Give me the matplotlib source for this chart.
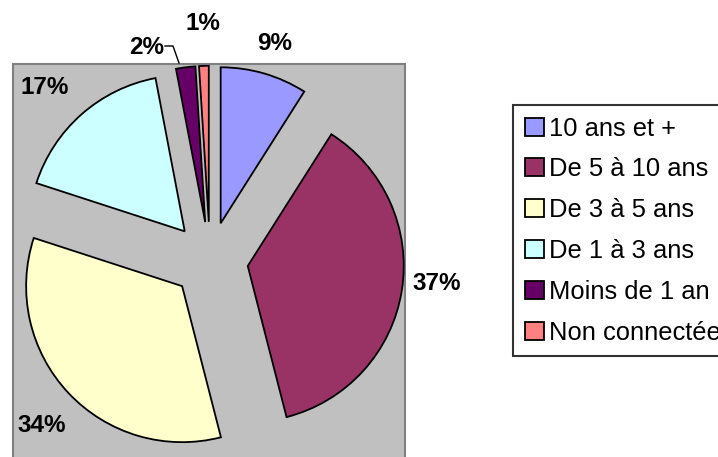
import matplotlib
matplotlib.use("Agg")
import matplotlib.pyplot as plt
from matplotlib.patches import Rectangle

plt.rcParams["font.family"] = ["Liberation Sans", "DejaVu Sans"]

categories = ["10 ans et +", "De 5 à 10 ans", "De 3 à 5 ans",
              "De 1 à 3 ans", "Moins de 1 an", "Non connectée"]
shares = [9, 37, 34, 17, 2, 1]
labels = ["9%", "37%", "34%", "17%", "2%", "1%"]
colors = ["#9999FF", "#993366", "#FFFFCC", "#CCFFFF", "#660066", "#FF8080"]

W, H = 718, 457
R = 156.0            # pie radius, px
CX, CY = 210, 260    # pie centre, px from top-left

fig = plt.figure(figsize=(W / 100, H / 100), dpi=100)
fig.patch.set_facecolor("white")

# grey plot area
fig.add_artist(Rectangle((13 / W, -0.01), (405 - 13) / W, (H - 64) / H + 0.01,
                         transform=fig.transFigure, facecolor="#C0C0C0",
                         edgecolor="#808080", linewidth=1.5, zorder=0))

ax = fig.add_axes([0, 0, 1, 1])
ax.patch.set_alpha(0)
wedges, _ = ax.pie(shares, colors=colors, startangle=90, counterclock=False,
                   explode=[0.245] * len(shares),
                   wedgeprops=dict(edgecolor="black", linewidth=1.3))
ax.set_aspect("auto")
ax.set_xlim(-CX / R, (W - CX) / R)
ax.set_ylim(-(H - CY) / R, CY / R)
ax.axis("off")

# percentage labels (pixel positions of text centres)
label_pos = [(275, 43), (437, 284), (42, 425), (45, 88), (147, 47), (203, 23)]
for txt, (x, y) in zip(labels, label_pos):
    fig.text(x / W, 1 - y / H, txt, ha="center", va="center",
             fontsize=17.5, fontweight="bold")

# leader line for the 2% label
fig.add_artist(plt.Line2D([165 / W, 173 / W, 179 / W],
                          [1 - 46 / H, 1 - 46 / H, 1 - 63 / H],
                          transform=fig.transFigure, color="black", lw=1))

leg = fig.legend(wedges, categories, loc="upper left",
                 bbox_to_anchor=(513 / W, 1 - 105 / H), fontsize=18.4,
                 frameon=True, fancybox=False, edgecolor="black",
                 handlelength=0.75, handleheight=0.7, handletextpad=0.2,
                 labelspacing=0.66, borderpad=0.45, borderaxespad=0)
leg.get_frame().set_linewidth(1.5)

fig.savefig("out.png", dpi=100)
